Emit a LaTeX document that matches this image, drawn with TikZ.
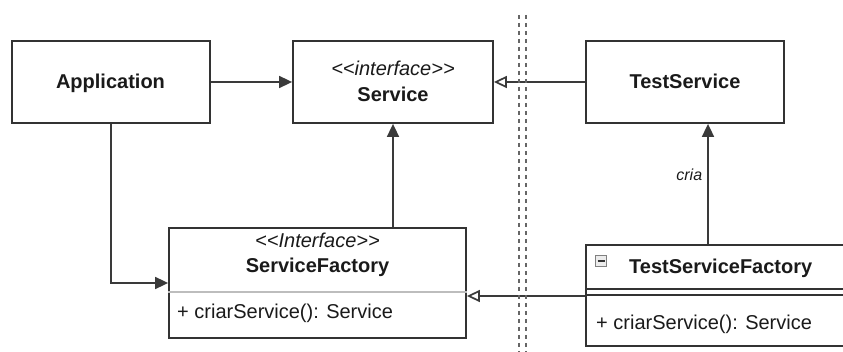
\documentclass[tikz,border=0pt]{standalone}
\usepackage{fontspec}
\setmainfont{Liberation Sans}
\usetikzlibrary{arrows.meta}
\definecolor{edge}{HTML}{333333}
\definecolor{conn}{HTML}{3A3A3A}
\definecolor{txt}{HTML}{1A1A1A}
\definecolor{sepgray}{HTML}{BDBDBD}
\definecolor{dotgray}{HTML}{666666}
\begin{document}
\begin{tikzpicture}[x=1pt,y=-1pt,
  font=\fontsize{20}{24}\selectfont,
  box/.style={draw=edge, line width=1.8pt, fill=white, inner sep=0pt},
  lbl/.style={text=txt, inner sep=0pt},
  conn/.style={draw=conn, line width=1.7pt},
  filled/.style={-{Triangle[width=12pt,length=13pt]}},
  hollow/.style={-{Triangle[open,width=12pt,length=13pt,fill=white]}},
  divider/.style={draw=dotgray, line width=1.7pt, dash pattern=on 4pt off 4pt},
  sep/.style={line width=1.6pt}]
\useasboundingbox (0,0) rectangle (843,352);
\clip (0,0) rectangle (843,352);

% class boxes
\node[box, minimum width=198pt, minimum height=82pt] (app) at (111,82) {};
\node[lbl, anchor=base] (appname) at (110.5,89) {\bfseries Application};

\node[box, minimum width=200pt, minimum height=82pt] (svc) at (393,82) {};
\node[lbl, anchor=base] (svcst) at (393,76) {\itshape <{}<interface>{}>};
\node[lbl, anchor=base] (svcname) at (393,102) {\bfseries Service};

\node[box, minimum width=198pt, minimum height=82pt] (ts) at (685,82) {};
\node[lbl, anchor=base] (tsname) at (685,89) {\bfseries TestService};

\node[box, minimum width=297pt, minimum height=110pt] (sf) at (317.5,283) {};
\node[lbl, anchor=base] (sfst) at (317.5,248) {\itshape <{}<Interface>{}>};
\node[lbl, anchor=base] (sfname) at (317.5,273) {\bfseries ServiceFactory};
\node[lbl, anchor=base west] (sfop) at (177,319) {+ criarService(): Service};
\draw[sep, draw=sepgray] (sf.west |- 0,292) -- (sf.east |- 0,292);

\node[box, minimum width=314pt, minimum height=101pt] (tsf) at (743,295.5) {};
\node[draw=gray, fill=gray!15, line width=1pt, minimum size=11pt, inner sep=0pt] (icon) at (601,261) {};
\draw[line width=1.2pt, draw=edge] ([xshift=2.5pt]icon.west) -- ([xshift=-2.5pt]icon.east);
\node[lbl, anchor=base west] (tsfname) at (629,274) {\bfseries TestServiceFactory};
\node[lbl, anchor=base west] (tsfop) at (596,330) {+ criarService(): Service};
\draw[sep, draw=edge] (tsf.west |- 0,289) -- (tsf.east |- 0,289);
\draw[sep, draw=edge] (tsf.west |- 0,295) -- (tsf.east |- 0,295);

% connectors
\draw[conn, filled] (app.east) -- (svc.west);
\draw[conn, hollow] (ts.west) -- (svc.east);
\draw[conn, filled] (app.south) |- (sf.west);
\draw[conn, filled] (svc.south |- sf.north) -- (svc.south);
\coordinate (tsfin) at (tsf.west |- 0,296);
\coordinate (sfin) at (sf.east |- 0,296);
\draw[conn, hollow] (tsfin) -- (sfin);
\coordinate (tsfup) at (708,0 |- tsf.north);
\coordinate (tsdown) at (708,0 |- ts.south);
\draw[conn, filled] (tsfup) -- (tsdown)
  node[lbl, pos=0.58, anchor=east, xshift=-5pt, font=\fontsize{16}{19}\selectfont\itshape] (cria) {cria};

% package boundary
\draw[divider] (519,15) -- (519,352);
\draw[divider] (526,15) -- (526,352);
\end{tikzpicture}
\end{document}
